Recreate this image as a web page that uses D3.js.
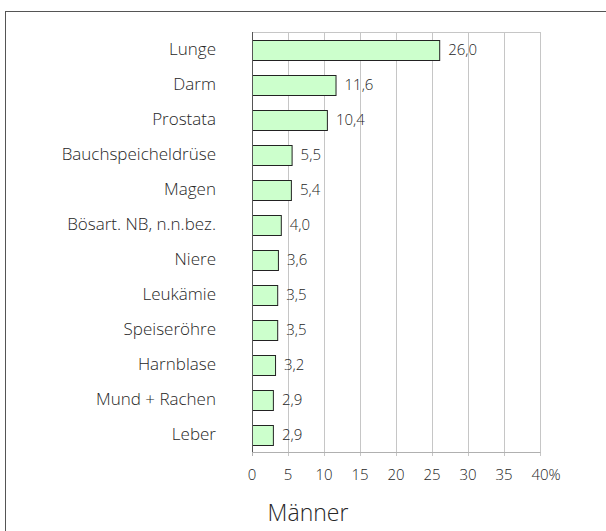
<!DOCTYPE html>
<html><head><meta charset="utf-8">
<script src="https://cdn.jsdelivr.net/npm/d3@7"></script>
<style>body{margin:0;background:#fff}svg{display:block}text{font-family:"Open Sans",Lato,sans-serif;font-weight:300;fill:#262626}</style>
</head><body>
<script>
const categories = ["Lunge","Darm","Prostata","Bauchspeicheldrüse","Magen","Bösart. NB, n.n.bez.","Niere","Leukämie","Speiseröhre","Harnblase","Mund + Rachen","Leber"];
const values = [26.0,11.6,10.4,5.5,5.4,4.0,3.6,3.5,3.5,3.2,2.9,2.9];
const tickValues = [0,5,10,15,20,25,30,35,40];
const title = "Männer";

const W=606,H=531;
const svg=d3.select("body").append("svg").attr("width",W).attr("height",H);
svg.append("rect").attr("x",5.5).attr("y",11.5).attr("width",620).attr("height",540).attr("fill","none").attr("stroke","#555");

const m={l:252,r:540,t:32,b:452};
const x=d3.scaleLinear().domain([0,40]).range([m.l,m.r]);
const y=d3.scaleBand().domain(categories).range([m.t,m.b]).paddingInner(0.43).paddingOuter(0.215);

// grid
svg.append("g").selectAll("line").data(tickValues.slice(1)).join("line")
 .attr("x1",d=>Math.round(x(d))+0.5).attr("x2",d=>Math.round(x(d))+0.5)
 .attr("y1",m.t).attr("y2",m.b+4).attr("stroke","#c6c6c6");
svg.append("line").attr("x1",m.l).attr("x2",m.r+0.5).attr("y1",m.t+0.5).attr("y2",m.t+0.5).attr("stroke","#c6c6c6");
svg.append("line").attr("x1",m.l).attr("x2",m.r+0.5).attr("y1",m.b+0.5).attr("y2",m.b+0.5).attr("stroke","#b0b0b0");
svg.append("line").attr("x1",m.l+0.5).attr("x2",m.l+0.5).attr("y1",m.b).attr("y2",m.b+4).attr("stroke","#b0b0b0");

// bars
svg.append("g").selectAll("rect").data(values).join("rect")
 .attr("x",x(0)+0.5).attr("y",(d,i)=>Math.round(y(categories[i]))+0.5)
 .attr("width",d=>x(d)-x(0)).attr("height",Math.round(y.bandwidth()))
 .attr("fill","#ccffcc").attr("stroke","#222");
svg.append("line").attr("x1",m.l+0.5).attr("x2",m.l+0.5).attr("y1",m.t).attr("y2",m.b).attr("stroke","#555");

// value labels
svg.append("g").selectAll("text").data(values).join("text")
 .attr("x",d=>x(d)+9).attr("y",(d,i)=>y(categories[i])+y.bandwidth()/2)
 .attr("dy","0.35em").attr("font-size",15).text(d=>d.toFixed(1).replace(".",","));

// category labels
svg.append("g").selectAll("text").data(categories).join("text")
 .attr("x",216).attr("y",d=>y(d)+y.bandwidth()/2).attr("dy","0.35em")
 .attr("text-anchor","end").attr("font-size",17).text(d=>d);

// x tick labels
svg.append("g").selectAll("text").data(tickValues).join("text")
 .attr("x",d=>x(d)).attr("y",474.5).attr("dy","0.35em").attr("text-anchor","middle")
 .attr("font-size",15).text(d=>d===40?"40%":d)
 .attr("dx",d=>d===40?6:0);

svg.append("text").attr("x",308).attr("y",513).attr("dy","0.35em").attr("text-anchor","middle")
 .attr("font-size",23).text(title);
</script>
</body></html>
